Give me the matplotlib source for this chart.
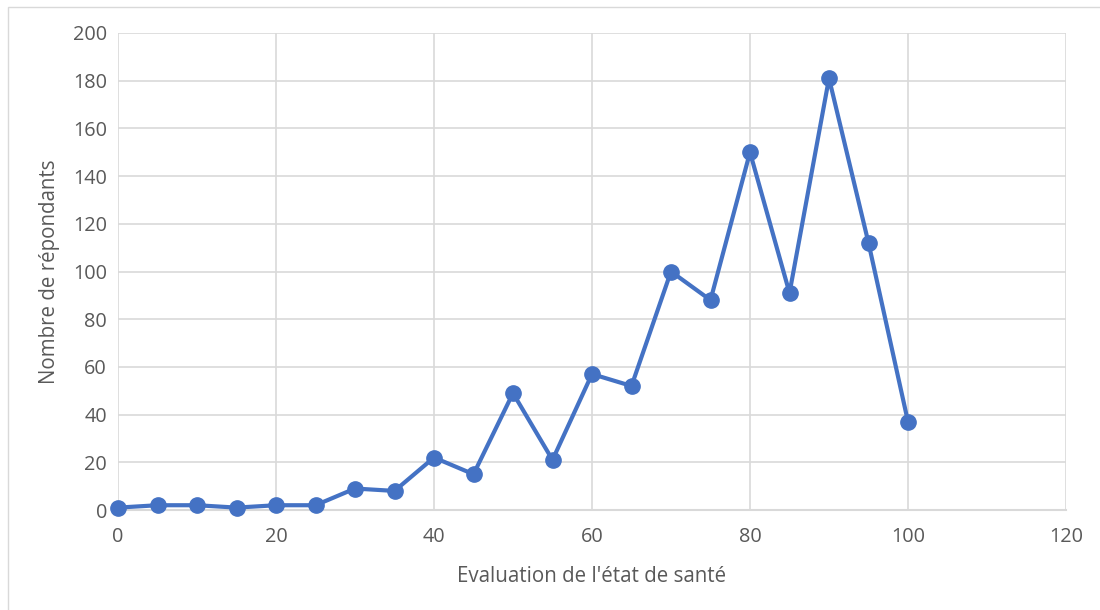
import matplotlib
matplotlib.use("Agg")
import matplotlib.pyplot as plt
from matplotlib.patches import Rectangle

# Health self-assessment score vs. number of respondents
scores = [0, 5, 10, 15, 20, 25, 30, 35, 40, 45, 50, 55, 60, 65, 70, 75, 80, 85, 90, 95, 100]
respondents = [1, 2, 2, 1, 2, 2, 9, 8, 22, 15, 49, 21, 57, 52, 100, 88, 150, 91, 181, 112, 37]

x_ticks = [0, 20, 40, 60, 80, 100, 120]
y_ticks = [0, 20, 40, 60, 80, 100, 120, 140, 160, 180, 200]

x_label = "Evaluation de l'état de santé"
y_label = "Nombre de répondants"

plt.rcParams['font.family'] = ['Open Sans', 'DejaVu Sans']

W, H = 1100, 610
fig = plt.figure(figsize=(W / 100, H / 100), dpi=100)
fig.patch.set_facecolor("white")

# chart frame
fig.patches.append(Rectangle((8 / W, -0.05), 1.2, 1 - 7 / H + 0.05,
                             transform=fig.transFigure, fill=False,
                             edgecolor="#d9d9d9", linewidth=1.0))

left, right, top, bottom = 118, 1066, 33, 510
ax = fig.add_axes([left / W, 1 - bottom / H, (right - left) / W, (bottom - top) / H])

grid_c = "#d9d9d9"
text_c = "#595959"
line_c = "#4472C4"

ax.plot(scores, respondents, color=line_c, linewidth=3.0, marker="o",
        markersize=11, markerfacecolor=line_c, markeredgecolor=line_c,
        zorder=3, clip_on=False)

ax.set_xlim(0, 120)
ax.set_ylim(0, 200)
ax.set_xticks(x_ticks)
ax.set_yticks(y_ticks)
ax.grid(True, color=grid_c, linewidth=1.2)
ax.set_axisbelow(True)

for s in ["top", "right", "left"]:
    ax.spines[s].set_visible(False)
ax.spines["bottom"].set_color(grid_c)
ax.spines["bottom"].set_linewidth(1.5)

ax.tick_params(axis="both", length=0, labelsize=14.3, labelcolor=text_c)
ax.tick_params(axis="x", pad=12)
ax.tick_params(axis="y", pad=8)

ax.set_xlabel(x_label, fontsize=14.8, color=text_c, labelpad=14)
ax.set_ylabel(y_label, fontsize=14.8, color=text_c, labelpad=9)

fig.savefig("out.png", dpi=100, facecolor="white")
